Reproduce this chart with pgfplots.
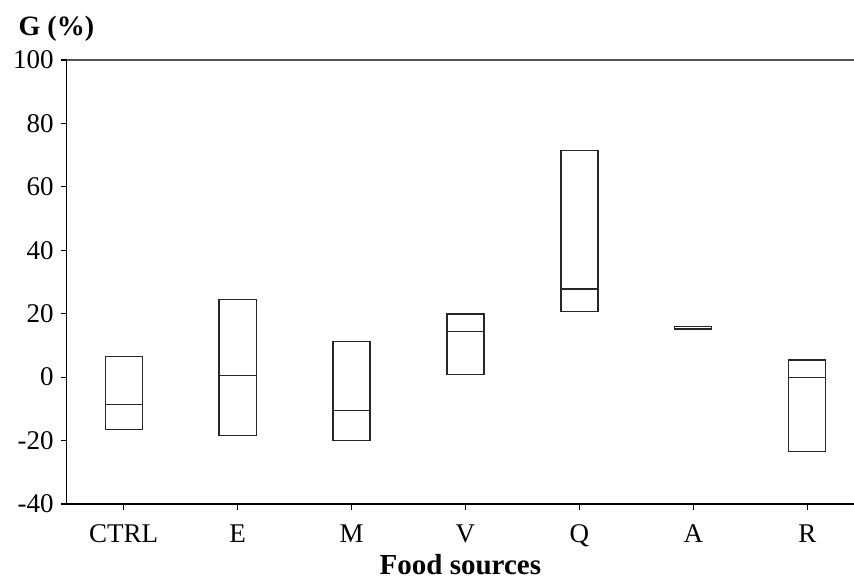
\documentclass[border=0pt]{standalone}
\usepackage{fontspec}
\setmainfont{Liberation Serif}
\usepackage{pgfplots}
\pgfplotsset{compat=1.18}
\usepgfplotslibrary{statistics}
\begin{document}
\begin{tikzpicture}
\begin{axis}[
  name=ax,
  scale only axis,
  width=393.65pt, height=222pt,
  xmin=-0.5, xmax=6.41,
  ymin=-40, ymax=100,
  ytick={-40,-20,...,100},
  xtick={0,...,6},
  xticklabels={CTRL,E,M,V,Q,A,R},
  axis lines*=left,
  axis line style={black, line width=0.7pt},
  tick align=outside,
  major tick length=3pt,
  tick style={black, line width=0.6pt},
  /pgf/number format/assume math mode=true,
  ticklabel style={font=\fontsize{13.5}{15}\selectfont},
  xticklabel style={yshift=-4pt},
  xlabel={\textbf{Food sources}},
  xlabel style={font=\fontsize{14.5}{16}\selectfont, yshift=3.5pt},
  boxplot/draw direction=y,
  boxplot/box extend=0.325,
  boxplot/whisker extend=0,
  boxplot/every whisker/.style={draw=none},
]
\addplot[solid, draw=black!85, line width=0.6pt, mark=none, boxplot prepared={draw position=0, lower whisker=-16.5, lower quartile=-16.5, median=-8.6, upper quartile=6.4, upper whisker=6.4}] coordinates {};
\addplot[solid, draw=black!85, line width=0.6pt, mark=none, boxplot prepared={draw position=1, lower whisker=-18.4, lower quartile=-18.4, median=0.4, upper quartile=24.4, upper whisker=24.4}] coordinates {};
\addplot[solid, draw=black!85, line width=0.6pt, mark=none, boxplot prepared={draw position=2, lower whisker=-20, lower quartile=-20, median=-10.4, upper quartile=11.3, upper whisker=11.3}] coordinates {};
\addplot[solid, draw=black!85, line width=0.6pt, mark=none, boxplot prepared={draw position=3, lower whisker=0.9, lower quartile=0.9, median=14.4, upper quartile=19.9, upper whisker=19.9}] coordinates {};
\addplot[solid, draw=black!85, line width=0.6pt, mark=none, boxplot prepared={draw position=4, lower whisker=20.8, lower quartile=20.8, median=27.8, upper quartile=71.4, upper whisker=71.4}] coordinates {};
\addplot[solid, draw=black!85, line width=0.6pt, mark=none, boxplot prepared={draw position=5, lower whisker=14.9, lower quartile=14.9, median=15.4, upper quartile=15.9, upper whisker=15.9}] coordinates {};
\addplot[solid, draw=black!85, line width=0.6pt, mark=none, boxplot prepared={draw position=6, lower whisker=-23.4, lower quartile=-23.4, median=0, upper quartile=5.4, upper whisker=5.4}] coordinates {};
\draw[draw=black!67, line width=1pt] (rel axis cs:0,1) -- (rel axis cs:1,1);
\end{axis}
\node[anchor=base west, font=\fontsize{14}{16}\selectfont\bfseries, inner sep=0pt] at ([xshift=-24.2pt, yshift=12pt]ax.north west) {G (\%)};
\pgfresetboundingbox
\path ([xshift=-33.35pt, yshift=-37.5pt]ax.south west) rectangle ([yshift=30pt]ax.north east);
\end{tikzpicture}
\end{document}
